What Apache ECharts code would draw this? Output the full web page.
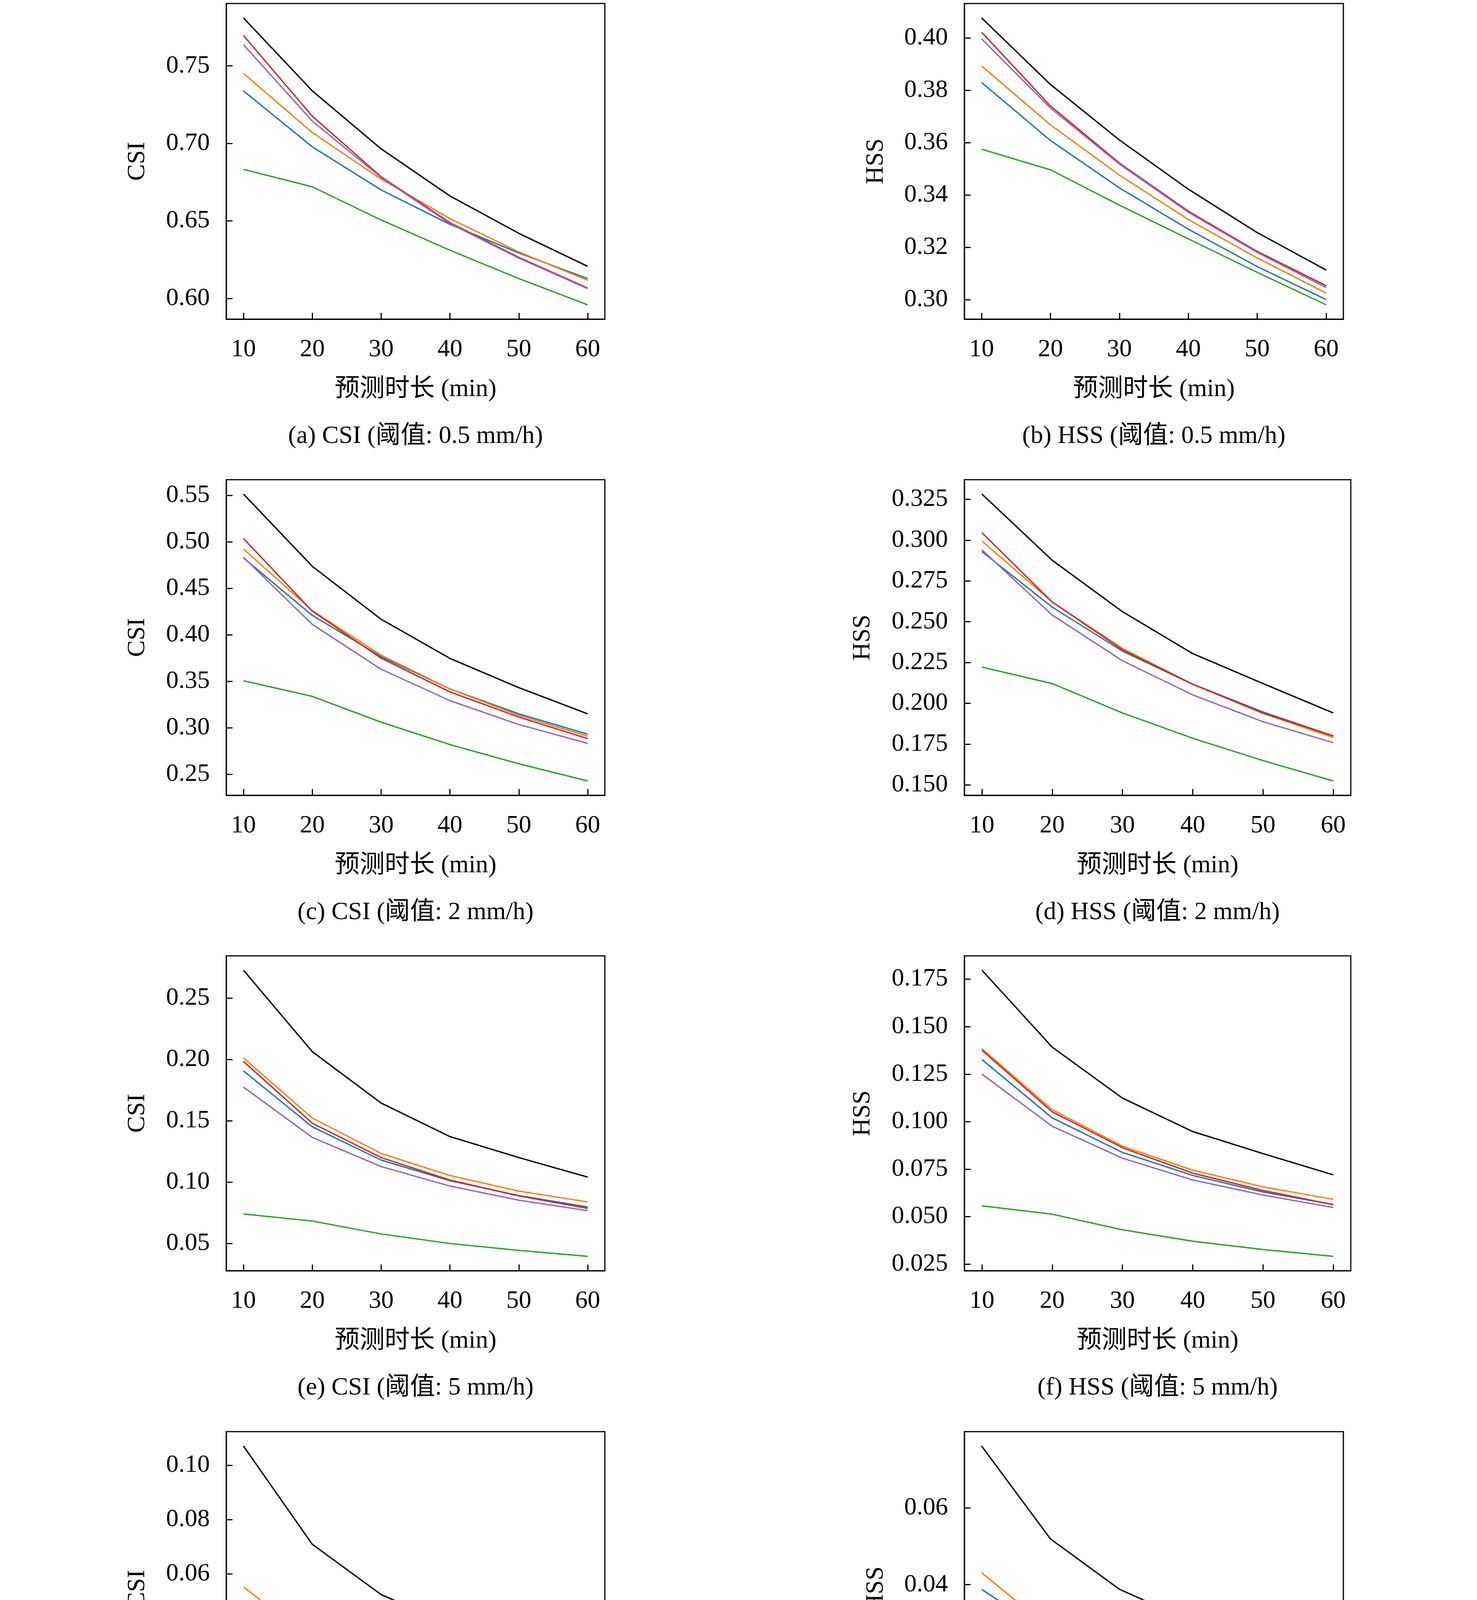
<!DOCTYPE html>
<html><head><meta charset="utf-8">
<script src="https://cdn.jsdelivr.net/npm/echarts@6/dist/echarts.min.js"></script>
<style>html,body{margin:0;padding:0;background:#fff}#chart{width:3780px;height:4814px}</style>
</head><body><div id="chart"></div>
<script>
const minutes = [10, 20, 30, 40, 50, 60];
const models = ['PPNet', 'ConvLSTM', 'PFST', 'MIM', 'PredRNN++', 'PredRNN'];
const modelColors = ['#000000', '#1f77b4', '#ff7f0e', '#2ca02c', '#d62728', '#9467bd'];

// rows: PPNet, ConvLSTM, PFST, MIM, PredRNN++, PredRNN
const csi05 = [
  [0.7810, 0.7339, 0.6965, 0.6661, 0.6420, 0.6207],
  [0.7339, 0.6978, 0.6700, 0.6478, 0.6293, 0.6128],
  [0.7452, 0.7070, 0.6770, 0.6515, 0.6300, 0.6117],
  [0.6833, 0.6720, 0.6506, 0.6311, 0.6128, 0.5959],
  [0.7696, 0.7176, 0.6785, 0.6489, 0.6265, 0.6067],
  [0.7637, 0.7144, 0.6780, 0.6483, 0.6260, 0.6063]
];
const hss05 = [
  [0.4077, 0.3822, 0.3610, 0.3422, 0.3256, 0.3113],
  [0.3830, 0.3608, 0.3427, 0.3269, 0.3126, 0.3000],
  [0.3893, 0.3668, 0.3476, 0.3306, 0.3159, 0.3025],
  [0.3575, 0.3496, 0.3361, 0.3232, 0.3104, 0.2980],
  [0.4022, 0.3740, 0.3522, 0.3338, 0.3184, 0.3053],
  [0.3997, 0.3732, 0.3518, 0.3334, 0.3180, 0.3046]
];
const csi2 = [
  [0.5513, 0.4736, 0.4167, 0.3746, 0.3432, 0.3151],
  [0.4826, 0.4209, 0.3765, 0.3418, 0.3151, 0.2932],
  [0.4923, 0.4260, 0.3781, 0.3418, 0.3135, 0.2910],
  [0.3506, 0.3338, 0.3061, 0.2820, 0.2614, 0.2429],
  [0.5035, 0.4254, 0.3749, 0.3386, 0.3116, 0.2884],
  [0.4833, 0.4112, 0.3630, 0.3292, 0.3035, 0.2833]
];
const hss2 = [
  [0.3283, 0.2877, 0.2562, 0.2305, 0.2121, 0.1941],
  [0.2930, 0.2590, 0.2320, 0.2117, 0.1947, 0.1800],
  [0.2995, 0.2621, 0.2337, 0.2117, 0.1938, 0.1791],
  [0.2222, 0.2121, 0.1941, 0.1786, 0.1649, 0.1524],
  [0.3046, 0.2621, 0.2328, 0.2117, 0.1941, 0.1800],
  [0.2941, 0.2541, 0.2261, 0.2052, 0.1887, 0.1759]
];
const csi5 = [
  [0.2727, 0.2063, 0.1644, 0.1371, 0.1200, 0.1041],
  [0.1907, 0.1451, 0.1180, 0.1012, 0.0890, 0.0798],
  [0.2012, 0.1522, 0.1234, 0.1054, 0.0927, 0.0839],
  [0.0741, 0.0683, 0.0578, 0.0500, 0.0444, 0.0395],
  [0.1984, 0.1480, 0.1200, 0.1017, 0.0888, 0.0786],
  [0.1775, 0.1364, 0.1127, 0.0968, 0.0853, 0.0768]
];
const hss5 = [
  [0.1797, 0.1392, 0.1124, 0.0948, 0.0832, 0.0720],
  [0.1327, 0.1020, 0.0838, 0.0717, 0.0630, 0.0564],
  [0.1384, 0.1063, 0.0871, 0.0745, 0.0657, 0.0591],
  [0.0557, 0.0513, 0.0431, 0.0371, 0.0327, 0.0291],
  [0.1376, 0.1052, 0.0863, 0.0729, 0.0638, 0.0563],
  [0.1250, 0.0976, 0.0808, 0.0693, 0.0614, 0.0548]
];
const csi10 = [
  [0.1071, 0.0709, 0.0524, 0.0414, 0.0351, 0.0291],
  [0.0496, 0.0340, 0.0258, 0.0206, 0.0175, 0.0148],
  [0.0552, 0.0357, 0.0264, 0.0209, 0.0175, 0.0150],
  [0.0048, 0.0040, 0.0030, 0.0025, 0.0020, 0.0016],
  [0.0443, 0.0290, 0.0218, 0.0174, 0.0145, 0.0122],
  [0.0324, 0.0227, 0.0174, 0.0141, 0.0119, 0.0103]
];
const hss10 = [
  [0.0761, 0.0519, 0.0388, 0.0308, 0.0260, 0.0217],
  [0.0388, 0.0269, 0.0205, 0.0167, 0.0141, 0.0120],
  [0.0431, 0.0285, 0.0211, 0.0169, 0.0141, 0.0122],
  [0.0043, 0.0036, 0.0027, 0.0022, 0.0018, 0.0015],
  [0.0351, 0.0237, 0.0178, 0.0142, 0.0118, 0.0100],
  [0.0265, 0.0188, 0.0144, 0.0117, 0.0099, 0.0087]
];

const ticksA = [0.60, 0.65, 0.70, 0.75];
const tickLabelsA = ['0.60', '0.65', '0.70', '0.75'];
const ticksB = [0.30, 0.32, 0.34, 0.36, 0.38, 0.40];
const tickLabelsB = ['0.30', '0.32', '0.34', '0.36', '0.38', '0.40'];
const ticksC = [0.25, 0.30, 0.35, 0.40, 0.45, 0.50, 0.55];
const tickLabelsC = ['0.25', '0.30', '0.35', '0.40', '0.45', '0.50', '0.55'];
const ticksD = [0.150, 0.175, 0.200, 0.225, 0.250, 0.275, 0.300, 0.325];
const tickLabelsD = ['0.150', '0.175', '0.200', '0.225', '0.250', '0.275', '0.300', '0.325'];
const ticksE = [0.05, 0.10, 0.15, 0.20, 0.25];
const tickLabelsE = ['0.05', '0.10', '0.15', '0.20', '0.25'];
const ticksF = [0.025, 0.050, 0.075, 0.100, 0.125, 0.150, 0.175];
const tickLabelsF = ['0.025', '0.050', '0.075', '0.100', '0.125', '0.150', '0.175'];
const ticksG = [0, 0.02, 0.04, 0.06, 0.08, 0.10];
const tickLabelsG = ['0', '0.02', '0.04', '0.06', '0.08', '0.10'];
const ticksH = [0, 0.02, 0.04, 0.06];
const tickLabelsH = ['0', '0.02', '0.04', '0.06'];

const xTickLabels = ['10', '20', '30', '40', '50', '60'];
const xName = '预测时长 (min)';
const yNames = ['CSI', 'HSS', 'CSI', 'HSS', 'CSI', 'HSS', 'CSI', 'HSS'];
const captions = [
  '(a) CSI (阈值: 0.5 mm/h)', '(b) HSS (阈值: 0.5 mm/h)',
  '(c) CSI (阈值: 2 mm/h)', '(d) HSS (阈值: 2 mm/h)',
  '(e) CSI (阈值: 5 mm/h)', '(f) HSS (阈值: 5 mm/h)',
  '(g) CSI (阈值: 10 mm/h)', '(h) HSS (阈值: 10 mm/h)'
];

// ---- layout (not data) ----
const panels = [csi05, hss05, csi2, hss2, csi5, hss5, csi10, hss10];
const panelTicks = [ticksA, ticksB, ticksC, ticksD, ticksE, ticksF, ticksG, ticksH];
const panelTickLabels = [tickLabelsA, tickLabelsB, tickLabelsC, tickLabelsD, tickLabelsE, tickLabelsF, tickLabelsG, tickLabelsH];
const boxes = [
  [579, 9, 969, 808], [2468, 9, 970, 808],
  [579, 1228, 969, 808], [2468, 1228, 989, 808],
  [579, 2447, 969, 806], [2468, 2447, 989, 806],
  [579, 3665, 969, 807], [2468, 3665, 970, 807]
];
const yNameGaps = [195, 194, 195, 228, 195, 228, 195, 194];
const FONT = '"Liberation Serif", "Noto Sans CJK SC", serif';
const FS = 64;

const grids = [], xAxes = [], yAxes = [], series = [], graphics = [];
panels.forEach((panel, p) => {
  const [l, t, w, h] = boxes[p];
  grids.push({ left: l, top: t, width: w, height: h, show: true, borderColor: '#000', borderWidth: 3, backgroundColor: 'transparent' });
  const xmin = minutes[0], xmax = minutes[minutes.length - 1];
  const xm = (xmax - xmin) * 0.05;
  xAxes.push({
    type: 'value', gridIndex: p, min: xmin - xm, max: xmax + xm,
    splitLine: { show: false },
    axisLine: { show: true, lineStyle: { color: '#000', width: 3 } },
    axisTick: { show: true, inside: true, length: 16, lineStyle: { color: '#000', width: 3 }, customValues: minutes },
    axisLabel: { customValues: minutes, margin: 46, color: '#000', fontSize: FS, fontFamily: FONT,
      formatter: v => xTickLabels[minutes.indexOf(Math.round(v))] },
    name: xName, nameLocation: 'middle', nameGap: 148,
    nameTextStyle: { color: '#000', fontSize: FS, fontFamily: FONT }
  });
  const all = panel.flat();
  const dmin = Math.min(...all), dmax = Math.max(...all);
  const ym = (dmax - dmin) * 0.05;
  const ticks = panelTicks[p], labels = panelTickLabels[p];
  yAxes.push({
    type: 'value', gridIndex: p, min: dmin - ym, max: dmax + ym, scale: true,
    splitLine: { show: false },
    axisLine: { show: true, lineStyle: { color: '#000', width: 3 } },
    axisTick: { show: true, inside: true, length: 16, lineStyle: { color: '#000', width: 3 }, customValues: ticks },
    axisLabel: { customValues: ticks, margin: 42, color: '#000', fontSize: FS, fontFamily: FONT,
      formatter: v => { const i = ticks.findIndex(tv => Math.abs(tv - v) < 1e-9); return i >= 0 ? labels[i] : ''; } },
    name: yNames[p], nameLocation: 'middle', nameRotate: 90, nameGap: yNameGaps[p],
    nameTextStyle: { color: '#000', fontSize: FS, fontFamily: FONT }
  });
  panel.forEach((vals, m) => {
    series.push({
      type: 'line', name: models[m], xAxisIndex: p, yAxisIndex: p,
      data: minutes.map((x, k) => [x, vals[k]]),
      showSymbol: false, symbol: 'none', color: modelColors[m],
      lineStyle: { width: 3.5, color: modelColors[m] }, itemStyle: { color: modelColors[m] },
      z: 2 + m, silent: true
    });
  });
  graphics.push({
    type: 'text', x: l + w / 2, y: t + h + 300,
    style: { text: captions[p], fill: '#000', font: FS + 'px ' + FONT, align: 'center', verticalAlign: 'middle' }
  });
});

const chart = echarts.init(document.getElementById('chart'), null, { renderer: 'canvas' });
chart.setOption({
  backgroundColor: '#ffffff',
  animation: false,
  grid: grids, xAxis: xAxes, yAxis: yAxes, series: series,
  legend: {
    data: models, orient: 'vertical', left: 1755, top: 4340,
    itemWidth: 87, itemHeight: 5, itemGap: 14, icon: 'rect',
    textStyle: { color: '#000', fontSize: FS, fontFamily: FONT, lineHeight: 65, padding: [0, 0, 0, 10] }
  },
  graphic: graphics
});
</script></body></html>
